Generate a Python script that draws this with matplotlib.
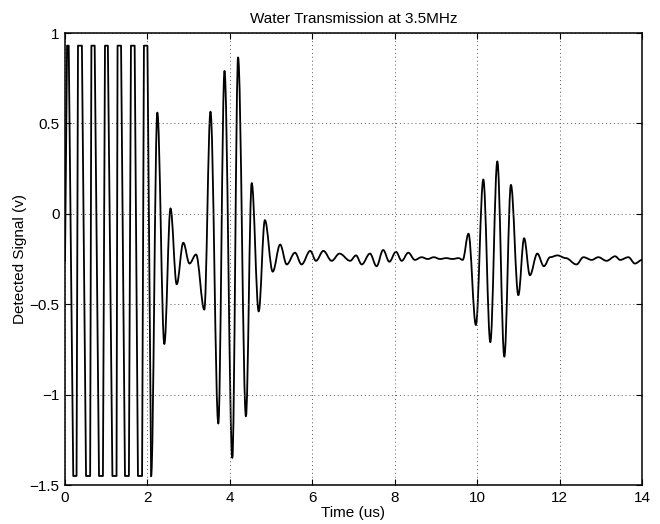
import numpy as np
import matplotlib
matplotlib.use('Agg')
import matplotlib.pyplot as plt
from matplotlib.path import Path
from matplotlib.patches import PathPatch

plt.rcParams['font.family'] = ['Liberation Sans', 'DejaVu Sans']

# excitation square wave (us, volts) - corners
sq_t = [0.00, 0.05, 0.09, 0.20, 0.28, 0.315, 0.41, 0.51, 0.61, 0.64, 0.72,
        0.825, 0.92, 0.97, 1.04, 1.15, 1.25, 1.275, 1.36, 1.455, 1.55,
        1.60, 1.69, 1.77, 1.87, 1.915, 2.00, 2.09]
sq_v = [-0.26, 0.93, 0.93, -1.45, -1.45, 0.93, 0.93, -1.45, -1.45, 0.93, 0.93,
        -1.45, -1.45, 0.93, 0.93, -1.45, -1.45, 0.93, 0.93, -1.45, -1.45,
        0.93, 0.93, -1.45, -1.45, 0.93, 0.93, -1.45]

# received signal, peaks and troughs
rx_t = [2.24, 2.41, 2.56, 2.71, 2.87, 3.02, 3.18, 3.38, 3.53, 3.72, 3.87,
        4.06, 4.20, 4.39, 4.53, 4.70, 4.85, 5.04, 5.22, 5.38, 5.58, 5.74,
        5.95, 6.09, 6.27, 6.47, 6.66, 6.92, 7.06, 7.20, 7.40, 7.56, 7.72,
        7.87, 8.03, 8.17, 8.33, 8.49, 8.65, 8.80, 8.95, 9.10, 9.25, 9.40,
        9.55, 9.65, 9.79, 9.97, 10.15, 10.32, 10.49, 10.66, 10.82, 11.00,
        11.14, 11.28, 11.46, 11.62, 11.77, 11.95, 12.15, 12.41, 12.58,
        12.78, 12.94, 13.14, 13.35, 13.47, 13.67, 13.83, 14.00]
rx_v = [0.56, -0.72, 0.03, -0.39, -0.16, -0.275, -0.225, -0.53, 0.565, -1.16, 0.79,
        -1.35, 0.865, -1.12, 0.17, -0.54, -0.035, -0.32, -0.17, -0.28, -0.215, -0.28,
        -0.205, -0.26, -0.205, -0.26, -0.22, -0.26, -0.23, -0.28, -0.22, -0.29, -0.20,
        -0.265, -0.21, -0.26, -0.215, -0.255, -0.24, -0.25, -0.24, -0.25, -0.245, -0.25,
        -0.245, -0.255, -0.11, -0.615, 0.19, -0.71, 0.29, -0.79, 0.16, -0.45,
        -0.135, -0.34, -0.22, -0.29, -0.24, -0.23, -0.245, -0.28, -0.24,
        -0.255, -0.24, -0.26, -0.235, -0.255, -0.24, -0.275, -0.255]

xticks = [0, 2, 4, 6, 8, 10, 12, 14]
yticks = [-1.5, -1, -0.5, 0, 0.5, 1]
ylabels = ['\u22121.5', '\u22121', '\u22120.5', '0', '0.5', '1']

fig = plt.figure(figsize=(6.6, 5.24), dpi=100)
ax = fig.add_axes([0.0985, 0.0744, 0.8742, 0.8626])

# square wave part: straight segments
ax.plot(sq_t, sq_v, color='black', linewidth=1.3)

# ringing part: smooth curve through the extrema (flat tangent at each peak)
pts = [(sq_t[-1], sq_v[-1])] + list(zip(rx_t, rx_v))
verts = [pts[0]]
codes = [Path.MOVETO]
for (t0, v0), (t1, v1) in zip(pts[:-1], pts[1:]):
    d = t1 - t0
    verts += [(t0 + 0.36 * d, v0), (t1 - 0.36 * d, v1), (t1, v1)]
    codes += [Path.CURVE4] * 3
ax.add_patch(PathPatch(Path(verts, codes), fill=False, edgecolor='black',
                       linewidth=1.3, capstyle='round', joinstyle='round'))

ax.set_xlim(0, 14)
ax.set_ylim(-1.5, 1)
ax.set_xticks(xticks)
ax.set_yticks(yticks)
ax.set_yticklabels(ylabels)
ax.grid(True, color='0.35', linestyle=(0, (1, 3)), linewidth=0.7)
ax.tick_params(direction='in', length=4, width=0.8, top=True, right=True,
               labelsize=11, pad=4)
for s in ax.spines.values():
    s.set_linewidth(1.1)

ax.set_title('Water Transmission at 3.5MHz', fontsize=11, pad=7)
ax.set_xlabel('Time (us)', fontsize=11, labelpad=1)
ax.set_ylabel('Detected Signal (v)', fontsize=11, labelpad=2)

fig.savefig('out.png', dpi=100)
